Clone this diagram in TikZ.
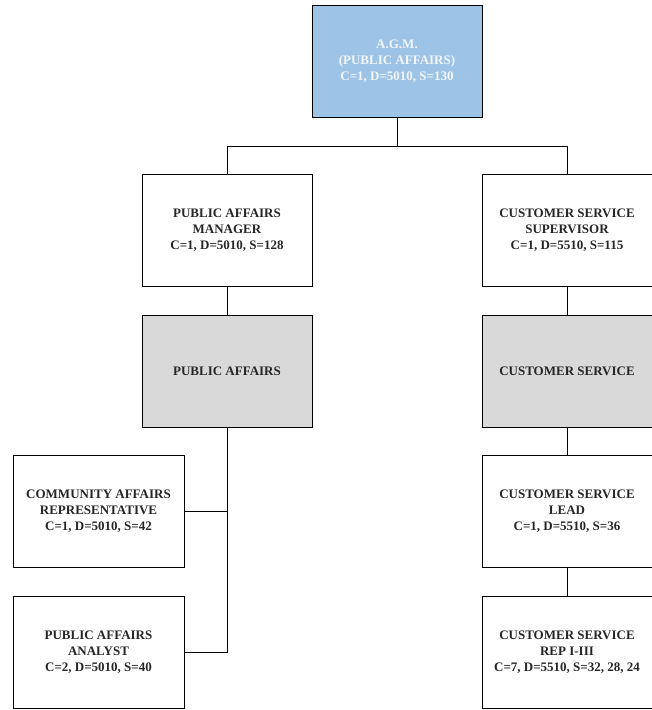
\documentclass[tikz,border=0pt]{standalone}
\usepackage{fontspec}
\setmainfont{Liberation Serif}
\definecolor{agmblue}{HTML}{9DC3E6}
\definecolor{unitgray}{HTML}{D9D9D9}
\definecolor{agmtext}{HTML}{F2F5F9}
\begin{document}
\begin{tikzpicture}[x=1pt,y=-1pt,
  box/.style={draw=black,line width=0.9pt,minimum width=170pt,minimum height=112pt,
    align=center,inner sep=2pt,font=\fontsize{13}{16}\selectfont\bfseries,text=black!85},
  unit/.style={box,fill=unitgray},
  link/.style={draw=black,line width=0.9pt}]
\useasboundingbox (0,0) rectangle (651.3,710);
\node[box,fill=agmblue,text=agmtext] (agm) at (397,61) {A.G.M.\\(PUBLIC AFFAIRS)\\C=1, D=5010, S=130};
\node[box] (pam) at (227,230) {PUBLIC AFFAIRS\\MANAGER\\C=1, D=5010, S=128};
\node[box] (csup) at (567,230) {CUSTOMER SERVICE\\SUPERVISOR\\C=1, D=5510, S=115};
\node[unit] (pa) at (227,371) {PUBLIC AFFAIRS};
\node[unit] (cs) at (567,371) {CUSTOMER SERVICE};
\node[box,minimum width=171pt] (car) at (98.5,511.5) {COMMUNITY AFFAIRS\\REPRESENTATIVE\\C=1, D=5010, S=42};
\node[box,minimum width=171pt] (paa) at (98.5,652) {PUBLIC AFFAIRS\\ANALYST\\C=2, D=5010, S=40};
\node[box] (csl) at (567,511.5) {CUSTOMER SERVICE\\LEAD\\C=1, D=5510, S=36};
\node[box] (csr) at (567,652) {CUSTOMER SERVICE\\REP I-III\\C=7, D=5510, S=32, 28, 24};
\coordinate (bus) at (397,146);
\draw[link] (agm.south) -- (bus) -| (pam.north);
\draw[link] (bus) -| (csup.north);
\draw[link] (pam.south) -- (pa.north);
\draw[link] (csup.south) -- (cs.north);
\draw[link] (pa.south) |- (car.east);
\draw[link] (pa.south) |- (paa.east);
\draw[link] (cs.south) -- (csl.north);
\draw[link] (csl.south) -- (csr.north);
\end{tikzpicture}
\end{document}
